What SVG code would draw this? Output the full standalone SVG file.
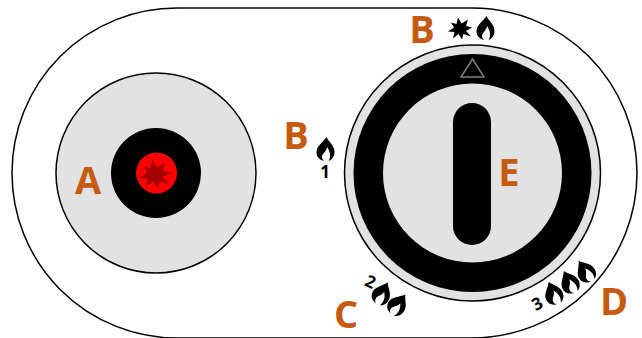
<svg xmlns="http://www.w3.org/2000/svg" width="642" height="338" viewBox="0 0 642 338">
<style>
.lbl{font-family:"Open Sans","Liberation Sans",sans-serif;font-weight:700;font-size:38px;fill:#c55a11;text-anchor:middle}
.num{font-family:"Open Sans","Liberation Sans",sans-serif;font-weight:700;font-size:17px;fill:#000;text-anchor:middle}
</style>
<defs>
<path id="flame" d="M1 -12C3 -7 9 -4 9 3C9 8 6 11 3 12C5.500 8 5 3 1.500 -2C1 3 -3.500 4 -3.500 8C-3.500 10 -2.500 11 -1 12C-6 11 -9 8 -9 3C-9 -3 -3 -6 1 -12Z"/>
<polygon id="star" points="-2,-11 1.500,-5 8,-9 6,-2.500 12,-1 6,2.500 11,8 3.500,5.500 2,11 -1.500,5.500 -7,10 -5.500,3.500 -12,3 -6,-1 -9,-6 -3.500,-4.500"/>
</defs>
<g id="body"><rect x="12" y="8" width="625" height="330" rx="165" ry="165" fill="#fff" stroke="#000" stroke-width="1.500"/></g>
<g id="burner">
<circle cx="156" cy="173" r="100" fill="#e2e2e2" stroke="#000" stroke-width="1.500"/>
<circle cx="156" cy="173" r="45" fill="#000"/>
<circle cx="156.500" cy="173" r="20.500" fill="#ff0000"/>
<use href="#star" transform="translate(155 174) scale(1.300)" fill="#a50000"/>
</g>
<g id="dial">
<circle cx="472.500" cy="173" r="128" fill="#e2e2e2" stroke="#000" stroke-width="1.500"/>
<circle cx="472.500" cy="173" r="119" fill="#000"/>
<circle cx="472.500" cy="173" r="89.500" fill="#e2e2e2"/>
<rect x="453" y="103" width="38" height="142" rx="19" fill="#000"/>
<polygon points="472.500,59 461,77 484,77" fill="none" stroke="#7f7f7f" stroke-width="1.500"/>
</g>
<g id="label-a"><text class="lbl" x="88" y="194">A</text></g>
<g id="label-b-top"><text class="lbl" x="422" y="43">B</text>
<use href="#star" transform="translate(460 28.500)"/><use href="#flame" transform="translate(485.500 28)"/></g>
<g id="label-b-left"><text class="lbl" x="296" y="149">B</text>
<use href="#flame" transform="translate(325.500 149)"/><text class="num" x="325" y="178">1</text></g>
<g id="label-c"><text class="lbl" x="346" y="328">C</text>
<text class="num" transform="translate(368 287) rotate(25)">2</text>
<use href="#flame" transform="translate(382 293) rotate(24)"/><use href="#flame" transform="translate(398 304) rotate(33)"/></g>
<g id="label-d"><text class="lbl" x="614" y="315">D</text>
<text class="num" transform="translate(540 309) rotate(-28)">3</text>
<use href="#flame" transform="translate(553 293) rotate(-25)"/><use href="#flame" transform="translate(569 282) rotate(-30)"/><use href="#flame" transform="translate(585 271) rotate(-36)"/></g>
<g id="label-e"><text class="lbl" x="509" y="186">E</text></g>
</svg>
